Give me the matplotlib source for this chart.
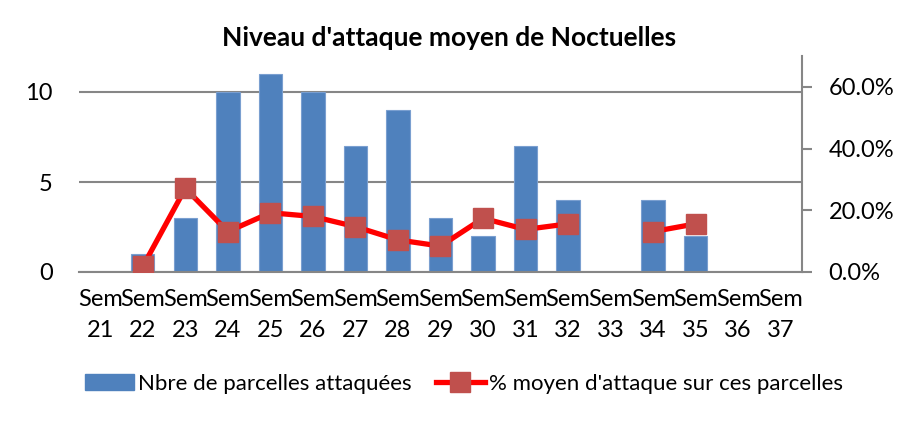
import matplotlib
matplotlib.use('Agg')
import matplotlib.pyplot as plt
import numpy as np
from matplotlib.ticker import FuncFormatter
from matplotlib.lines import Line2D
from matplotlib.patches import Patch

# ---- data ----
semaines = ['21', '22', '23', '24', '25', '26', '27', '28', '29',
            '30', '31', '32', '33', '34', '35', '36', '37']
nb_parcelles = [0, 1, 3, 10, 11, 10, 7, 9, 3, 2, 7, 4, 0, 4, 2, 0, 0]
pct_attaque = [np.nan, 0.018, 0.271, 0.131, 0.192, 0.180, 0.147, 0.104,
               0.084, 0.174, 0.138, 0.156, np.nan, 0.131, 0.156, np.nan, np.nan]
tick_labels = ['Sem\n' + s for s in semaines]
left_ticks = [0, 5, 10]
right_ticks = [0.0, 0.2, 0.4, 0.6]

plt.rcParams['font.family'] = ['Lato', 'DejaVu Sans']

W, H = 899, 421
fig = plt.figure(figsize=(W / 100, H / 100), dpi=100)
ax = fig.add_axes([79 / W, 1 - 272 / H, (802 - 79) / W, (272 - 56) / H])
ax2 = ax.twinx()

grey = '#868686'
x = np.arange(len(semaines))

ax.set_axisbelow(True)
ax.bar(x, nb_parcelles, width=0.55, color='#4F81BD', edgecolor='#7A9FD0',
       linewidth=0.8, zorder=2)
ax.set_xlim(-0.5, len(semaines) - 0.5)
ax.set_ylim(0, 12)
ax.set_yticks(left_ticks)
ax.yaxis.grid(True, color=grey, linewidth=1.5)
ax.set_xticks(x)
ax.set_xticklabels(tick_labels, fontsize=17, linespacing=1.6)
ax.tick_params(axis='x', length=0, pad=12)
ax.tick_params(axis='y', length=0, pad=19, labelsize=17)
for s in ['top', 'left', 'right']:
    ax.spines[s].set_visible(False)
ax.spines['bottom'].set_color(grey)
ax.spines['bottom'].set_linewidth(1.5)

ax2.plot(x, pct_attaque, color='#FF0000', linewidth=3.8, marker='s',
         markersize=14, markerfacecolor='#C0504D', markeredgecolor='#C0504D',
         zorder=3)
ax2.set_ylim(0, 0.70)
ax2.set_yticks(right_ticks)
ax2.yaxis.set_major_formatter(FuncFormatter(lambda v, p: f'{v * 100:.1f}%'))
ax2.tick_params(axis='y', direction='out', length=7, width=1.5, color=grey,
                pad=12, labelsize=17)
for s in ['top', 'left', 'bottom']:
    ax2.spines[s].set_visible(False)
ax2.spines['right'].set_color(grey)
ax2.spines['right'].set_linewidth(1.5)

fig.text(449 / W, 1 - 38 / H, "Niveau d'attaque moyen de Noctuelles",
         ha='center', va='center', fontsize=19, fontweight='bold')

handles = [Patch(facecolor='#4F81BD', edgecolor='#4F81BD'),
           Line2D([0], [0], color='#FF0000', linewidth=3.8, marker='s',
                  markersize=14, markerfacecolor='#C0504D',
                  markeredgecolor='#C0504D')]
labels = ['Nbre de parcelles attaquées', "% moyen d'attaque sur ces parcelles"]
fig.legend(handles, labels, loc='center', bbox_to_anchor=(464 / W, 1 - 384 / H),
           ncol=2, frameon=False, fontsize=16, handlelength=2.2,
           handleheight=0.7, handletextpad=0.2, columnspacing=1.1)

fig.savefig('out.png', dpi=100)
